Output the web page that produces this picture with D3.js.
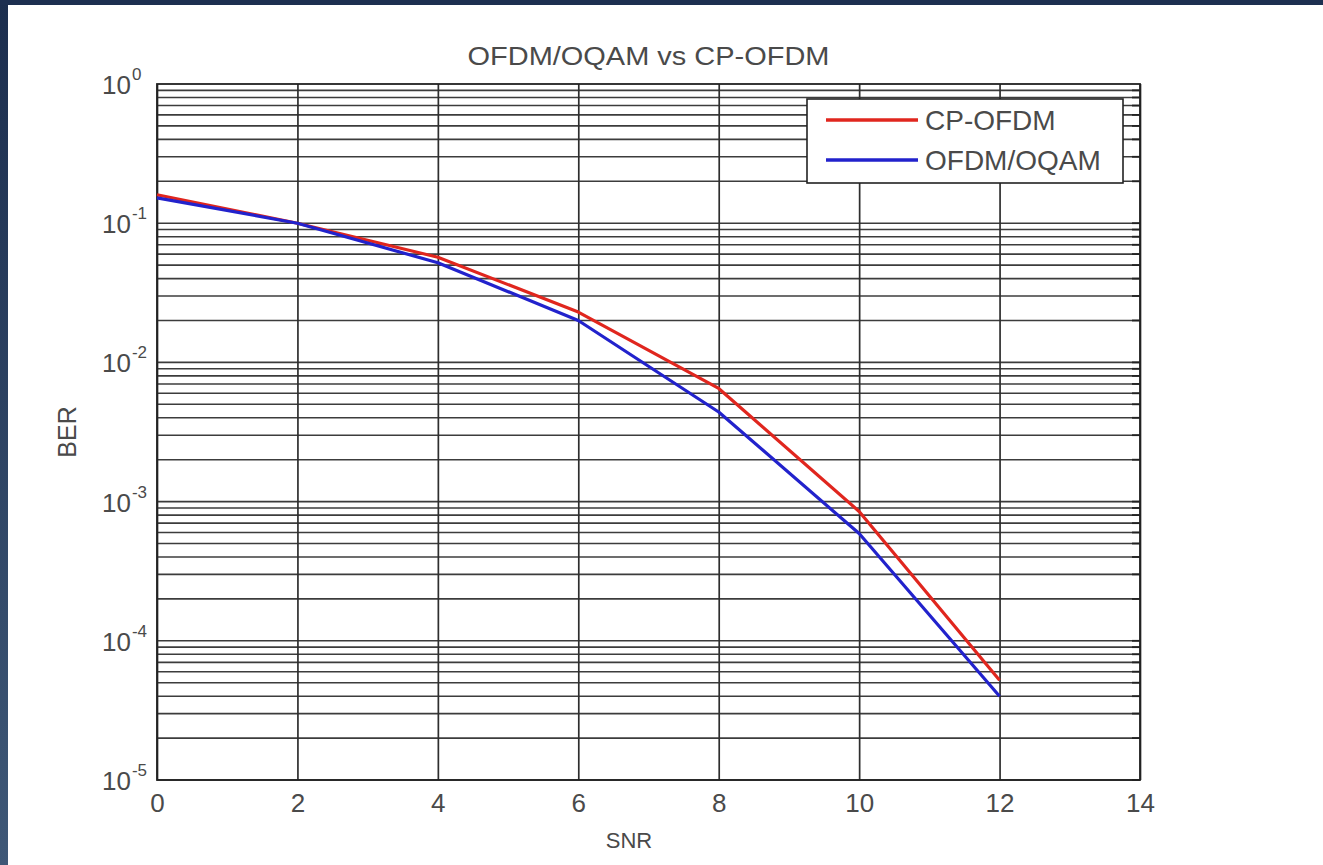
<!DOCTYPE html>
<html>
<head>
<meta charset="utf-8">
<script src="https://cdn.jsdelivr.net/npm/d3@7"></script>
<style>
  body { margin: 0; background: #fff; }
  svg { display: block; }
  text { font-family: "Liberation Sans", Arial, Helvetica, sans-serif; fill: #4a4a4a; }
</style>
</head>
<body>
<svg id="chart" width="1323" height="865"></svg>
<script>
//============================================================
// Data
//------------------------------------------------------------

var snr = [0, 2, 4, 6, 8, 10, 12];
var berCpOfdm = [0.16, 0.1, 0.057, 0.023, 0.0065, 0.00085, 5.2e-5];
var berOfdmOqam = [0.152, 0.1, 0.052, 0.020, 0.0044, 0.00059, 4.0e-5];

var seriesNames = ['CP-OFDM', 'OFDM/OQAM'];
var seriesColors = ['#e0261e', '#2222cc'];
var xTicks = [0, 2, 4, 6, 8, 10, 12, 14];
var yDecades = [0, -1, -2, -3, -4, -5];

//============================================================

var width = 1323, height = 865,
    margin = {top: 84, right: 183, bottom: 85, left: 157};

var svg = d3.select('#chart');

// slide frame (dark strips at the top and left)
var defs = svg.append('defs');
var grad = defs.append('linearGradient').attr('id', 'frame').attr('x1', 0).attr('y1', 0).attr('x2', 0).attr('y2', 1);
grad.append('stop').attr('offset', '0%').attr('stop-color', '#1c2e4e');
grad.append('stop').attr('offset', '100%').attr('stop-color', '#3f5877');

svg.append('rect').attr('x', 0).attr('y', 0).attr('width', width).attr('height', height).attr('fill', '#fff');
svg.append('rect').attr('x', 0).attr('y', 0).attr('width', 8).attr('height', height).attr('fill', 'url(#frame)');
svg.append('rect').attr('x', 0).attr('y', 0).attr('width', width).attr('height', 5).attr('fill', '#1d2f50');

var x = d3.scaleLinear().domain([0, 14]).range([margin.left, width - margin.right]);
var y = d3.scaleLog().domain([1e-5, 1]).range([height - margin.bottom, margin.top]);

var plotW = x.range()[1] - x.range()[0],
    plotH = y.range()[0] - y.range()[1];

//------------------------------------------------------------
// grid

var minorVals = [];
yDecades.slice(1).forEach(function (p) {
  for (var k = 1; k <= 9; k += 1) { minorVals.push(k * Math.pow(10, p)); }
});

var grid = svg.append('g').attr('class', 'grid');

grid.selectAll('line.h')
    .data(minorVals)
  .enter().append('line')
    .attr('class', 'h')
    .attr('x1', x.range()[0]).attr('x2', x.range()[1])
    .attr('y1', function (d) { return y(d); })
    .attr('y2', function (d) { return y(d); })
    .attr('stroke', '#3c3c3c')
    .attr('stroke-width', 1.6);

var xAxis = d3.axisBottom(x)
    .tickValues(xTicks)
    .tickSize(-plotH)
    .tickPadding(14)
    .tickFormat(d3.format('d'));

var gx = svg.append('g')
    .attr('transform', 'translate(0,' + y.range()[0] + ')')
    .call(xAxis);
gx.select('.domain').remove();
gx.selectAll('line').attr('stroke', '#2e2e2e').attr('stroke-width', 1.7);
gx.selectAll('text')
    .style('font-family', '"Liberation Sans", Arial, sans-serif')
    .style('font-size', '26px')
    .attr('fill', '#4a4a4a')
    .attr('dy', '0.71em');

// small inner minor ticks on the right axis, like matlab
svg.append('g').selectAll('line')
    .data(minorVals)
  .enter().append('line')
    .attr('x1', x.range()[1] - 8).attr('x2', x.range()[1])
    .attr('y1', function (d) { return y(d); })
    .attr('y2', function (d) { return y(d); })
    .attr('stroke', '#222')
    .attr('stroke-width', 1.8);

// box
svg.append('rect')
    .attr('x', x.range()[0]).attr('y', y.range()[1])
    .attr('width', plotW).attr('height', plotH)
    .attr('fill', 'none').attr('stroke', '#222').attr('stroke-width', 1.8);

//------------------------------------------------------------
// y tick labels 10^n

var yLab = svg.append('g').selectAll('text')
    .data(yDecades)
  .enter().append('text')
    .attr('x', 102)
    .attr('y', function (d) { return y(Math.pow(10, d)) + 10; })
    .style('font-size', '26px');
yLab.append('tspan').text('10');
yLab.append('tspan')
    .attr('dy', -14)
    .attr('dx', 1)
    .style('font-size', '17px')
    .text(function (d) { return d; });

//------------------------------------------------------------
// series

var line = d3.line()
    .x(function (d) { return x(d[0]); })
    .y(function (d) { return y(d[1]); });

var series = [d3.zip(snr, berCpOfdm), d3.zip(snr, berOfdmOqam)];

svg.append('g').selectAll('path')
    .data(series)
  .enter().append('path')
    .attr('d', line)
    .attr('fill', 'none')
    .attr('stroke', function (d, i) { return seriesColors[i]; })
    .attr('stroke-width', 3.2)
    .attr('stroke-linejoin', 'round');

//------------------------------------------------------------
// legend

var legend = svg.append('g').attr('transform', 'translate(807,99)');
legend.append('rect')
    .attr('width', 316).attr('height', 84)
    .attr('fill', '#fff').attr('stroke', '#222').attr('stroke-width', 1.6);

var item = legend.selectAll('g.item')
    .data(seriesNames)
  .enter().append('g')
    .attr('class', 'item')
    .attr('transform', function (d, i) { return 'translate(0,' + (21 + i * 40) + ')'; });
item.append('line')
    .attr('x1', 19).attr('x2', 111)
    .attr('stroke', function (d, i) { return seriesColors[i]; })
    .attr('stroke-width', 3.6);
item.append('text')
    .attr('x', 118)
    .attr('dy', '0.36em')
    .style('font-size', '28px')
    .text(function (d) { return d; });

//------------------------------------------------------------
// titles

svg.append('text')
    .attr('x', (x.range()[0] + x.range()[1]) / 2)
    .attr('y', 65)
    .attr('text-anchor', 'middle')
    .attr('textLength', 362)
    .attr('lengthAdjust', 'spacingAndGlyphs')
    .style('font-size', '25px')
    .text('OFDM/OQAM vs CP-OFDM');

svg.append('text')
    .attr('x', 629)
    .attr('y', 848)
    .attr('text-anchor', 'middle')
    .style('font-size', '22px')
    .text('SNR');

svg.append('text')
    .attr('transform', 'translate(76,' + ((y.range()[0] + y.range()[1]) / 2) + ') rotate(-90)')
    .attr('text-anchor', 'middle')
    .style('font-size', '25px')
    .text('BER');
</script>
</body>
</html>
